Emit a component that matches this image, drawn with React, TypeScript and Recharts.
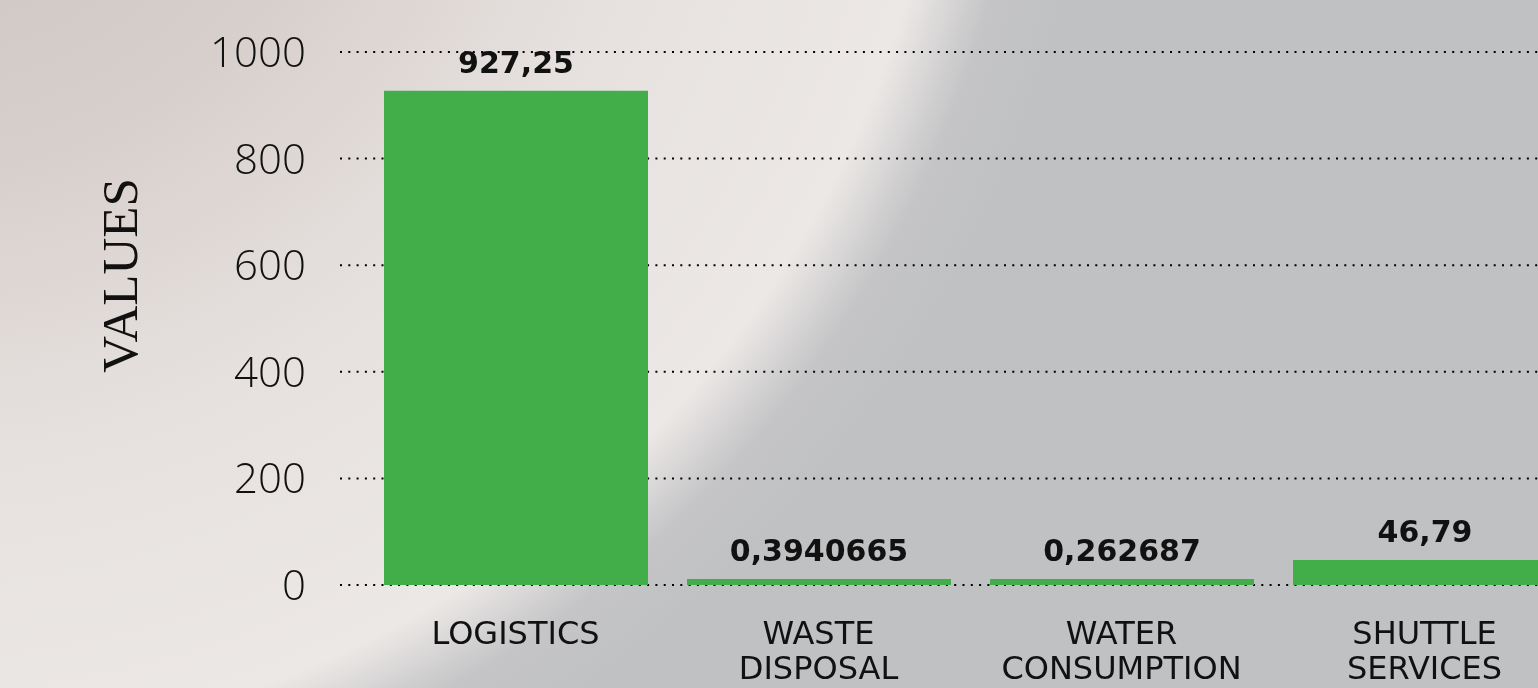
import { BarChart, Bar, XAxis, YAxis, CartesianGrid, LabelList } from 'recharts';

const categories = ['LOGISTICS', 'WASTE DISPOSAL', 'WATER CONSUMPTION', 'SHUTTLE SERVICES'];
const values = [927.25, 0.3940665, 0.262687, 46.79];
const valueLabels = ['927,25', '0,3940665', '0,262687', '46,79'];
const yTicks = [0, 200, 400, 600, 800, 1000];

const chartData = categories.map((name, i) => ({
  name,
  value: values[i],
  label: valueLabels[i],
}));

// category names break into one word per line
const CategoryTick = ({ x, y, payload }: any) => {
  const words = String(payload.value).split(' ');
  return (
    <text
      x={x}
      y={y}
      textAnchor="middle"
      fill="#111"
      fontFamily="'DejaVu Sans', sans-serif"
      fontSize={32}
    >
      {words.map((w, i) => (
        <tspan key={w} x={x} dy={i === 0 ? 57 : 35}>
          {w}
        </tspan>
      ))}
    </text>
  );
};

const AxisTitle = ({ viewBox }: any) => {
  const cx = viewBox.x + 120;
  const cy = viewBox.y + viewBox.height / 2 - 43;
  return (
    <text
      x={cx}
      y={cy}
      transform={`rotate(-90 ${cx} ${cy})`}
      textAnchor="middle"
      dominantBaseline="central"
      fill="#111"
      fontFamily="'Liberation Serif', serif"
      fontSize={51}
    >
      VALUES
    </text>
  );
};

export default function App() {
  return (
    <div
      style={{
        position: 'fixed',
        left: 0,
        top: 0,
        width: '100vw',
        height: '100vh',
        overflow: 'hidden',
        background:
          'radial-gradient(circle at -100px -300px, #c9c1bf 0px, #d6cecb 450px, #e6e1df 760px, #ece8e6 1050px, #c5c5c7 1130px, #c0c1c3 1200px)',
      }}
    >
      <BarChart
        width={1576}
        height={688}
        data={chartData}
        margin={{ top: 52, right: 0, bottom: 0, left: 0 }}
      >
        <CartesianGrid vertical={false} stroke="#000" strokeWidth={2} strokeDasharray="2 6.3" />
        <XAxis
          dataKey="name"
          axisLine={false}
          tickLine={false}
          tickSize={0}
          height={103}
          interval={0}
          padding={{ left: 24, right: 0 }}
          tick={<CategoryTick />}
        />
        <YAxis
          width={340}
          domain={[0, 1000]}
          ticks={yTicks}
          axisLine={false}
          tickLine={false}
          tickSize={0}
          tickMargin={34}
          tick={{ fill: '#111', fontSize: 42, fontFamily: "'Open Sans', sans-serif", fontWeight: 300 }}
          label={<AxisTitle />}
        />
        <Bar dataKey="value" fill="#42ae4a" barSize={264} minPointSize={6} isAnimationActive={false}>
          <LabelList
            dataKey="label"
            position="top"
            offset={18}
            fill="#111"
            fontSize={30}
            fontWeight="bold"
            fontFamily="'DejaVu Sans', sans-serif"
          />
        </Bar>
      </BarChart>
    </div>
  );
}
